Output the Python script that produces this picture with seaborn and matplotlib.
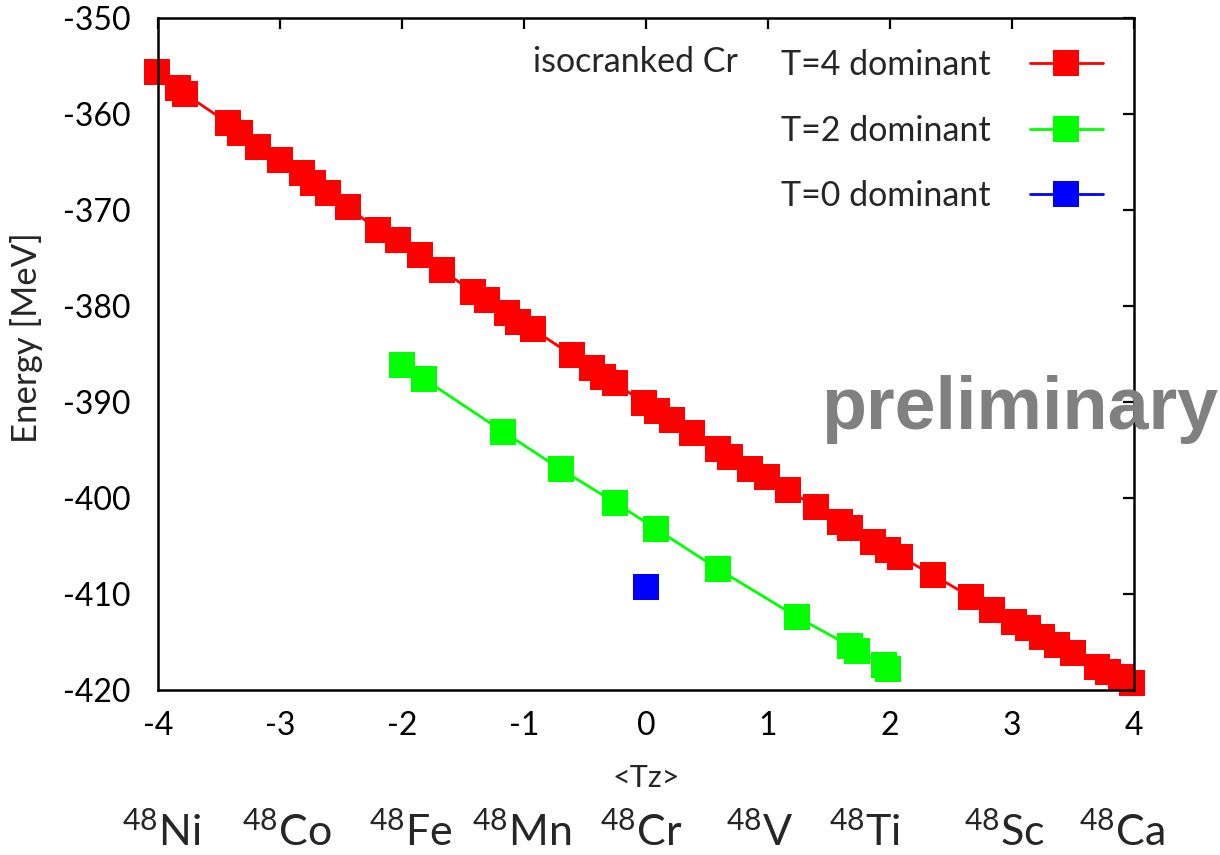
import numpy as np
import matplotlib
matplotlib.use("Agg")
import matplotlib.pyplot as plt
import seaborn as sns
from matplotlib.lines import Line2D

sns.set_theme(style="white")
plt.rcParams["font.family"] = ["Lato", "DejaVu Sans"]
plt.rcParams["axes.unicode_minus"] = False
plt.rcParams["mathtext.fontset"] = "custom"
plt.rcParams["mathtext.rm"] = "Liberation Sans"

# isocranked 48Cr, energies
t4_tz = [-4.01, -3.84, -3.78, -3.43, -3.33, -3.18, -3.00, -2.82, -2.73, -2.61,
         -2.44, -2.20, -2.03, -1.85, -1.67, -1.42, -1.30, -1.14, -1.05, -0.93,
         -0.61, -0.44, -0.35, -0.25, -0.02, 0.09, 0.21, 0.38, 0.59, 0.69,
         0.85, 0.99, 1.16, 1.39, 1.59, 1.67, 1.86, 1.98, 2.08, 2.35,
         2.66, 2.84, 3.02, 3.13, 3.25, 3.37, 3.50, 3.70, 3.79, 3.89, 3.98]
t4_e = [-355.6, -357.3, -357.9, -360.9, -362.0, -363.4, -364.8, -366.1, -367.2, -368.2,
        -369.7, -372.1, -373.1, -374.7, -376.3, -378.5, -379.4, -380.7, -381.7, -382.4,
        -385.1, -386.5, -387.4, -388.0, -390.1, -390.9, -391.9, -393.2, -394.9, -395.7,
        -397.0, -397.8, -399.2, -400.9, -402.5, -403.1, -404.6, -405.4, -406.1, -408.0,
        -410.3, -411.7, -412.9, -413.5, -414.5, -415.3, -416.1, -417.6, -418.1, -418.6, -419.3]

t2_tz = [-2.00, -1.82, -1.17, -0.70, -0.25, 0.08, 0.59, 1.24, 1.67, 1.73, 1.95, 1.98]
t2_e = [-386.1, -387.6, -393.1, -397.0, -400.5, -403.2, -407.4, -412.4, -415.4, -415.9, -417.4, -417.8]

t0_tz = [0.0]
t0_e = [-409.3]

series_labels = ["T=4 dominant", "T=2 dominant", "T=0 dominant"]
series_colors = ["#ff0000", "#00ff00", "#0000ff"]

nuclei = ["Ni", "Co", "Fe", "Mn", "Cr", "V", "Ti", "Sc", "Ca"]

fig = plt.figure(figsize=(12.2, 8.55), dpi=100)
ax = fig.add_axes([0.1295, 0.193, 0.8, 0.786])

ms = 18.5
lw = 2.0
sns.lineplot(x=t4_tz, y=t4_e, ax=ax, color=series_colors[0], lw=lw, marker="s",
             markersize=ms, markeredgewidth=0, estimator=None, sort=False)
sns.lineplot(x=t2_tz, y=t2_e, ax=ax, color=series_colors[1], lw=lw, marker="s",
             markersize=ms, markeredgewidth=0, estimator=None, sort=False)
sns.lineplot(x=t0_tz, y=t0_e, ax=ax, color=series_colors[2], lw=lw, marker="s",
             markersize=ms, markeredgewidth=0, estimator=None, sort=False)
for ln in ax.lines:
    ln.set_clip_on(False)

ax.set_xlim(-4, 4)
ax.set_ylim(-420, -350)
ax.set_xticks(range(-4, 5))
ax.set_yticks(range(-420, -349, 10))
ax.tick_params(direction="in", length=8, width=1.6, top=True, right=True,
               labelsize=23, colors="black")
ax.tick_params(axis="x", pad=15)
ax.tick_params(axis="y", pad=20)
for sp in ax.spines.values():
    sp.set_linewidth(1.8)
    sp.set_color("black")
    sp.set_zorder(5)

ax.set_xlabel("<Tz>", fontsize=22)
ax.xaxis.set_label_coords(0.5, -0.11)
ax.set_ylabel("Energy [MeV]", fontsize=25)
ax.yaxis.set_label_coords(-0.118, 0.525)

handles = [Line2D([], [], color=c, lw=lw, marker="s", markersize=ms, markeredgewidth=0)
           for c in series_colors]
ax.legend(handles, series_labels, loc="upper right", bbox_to_anchor=(0.968, 0.954),
          frameon=False, markerfirst=False, fontsize=24.5, handlelength=2.15,
          handletextpad=1.15, labelspacing=0.99, borderpad=0, borderaxespad=0)
ax.text(0.594, 0.9345, "isocranked Cr", transform=ax.transAxes, ha="right",
        va="center", fontsize=24.5)

fig.text(0.673, 0.498, "preliminary", fontsize=53, fontweight="bold",
         color="#808080", family="Liberation Sans", ha="left", va="baseline")

# isobar labels under the axis, x spots as they sit in the picture
label_x = [-3.97, -2.94, -1.93, -1.02, -0.04, 0.93, 1.79, 2.94, 3.90]
for name, lx in zip(nuclei, label_x):
    ax.text(lx, -0.242, r"$\mathregular{^{48}" + name + "}$", transform=ax.get_xaxis_transform(),
            ha="center", va="bottom", fontsize=31)

fig.savefig("out.png", dpi=100)
